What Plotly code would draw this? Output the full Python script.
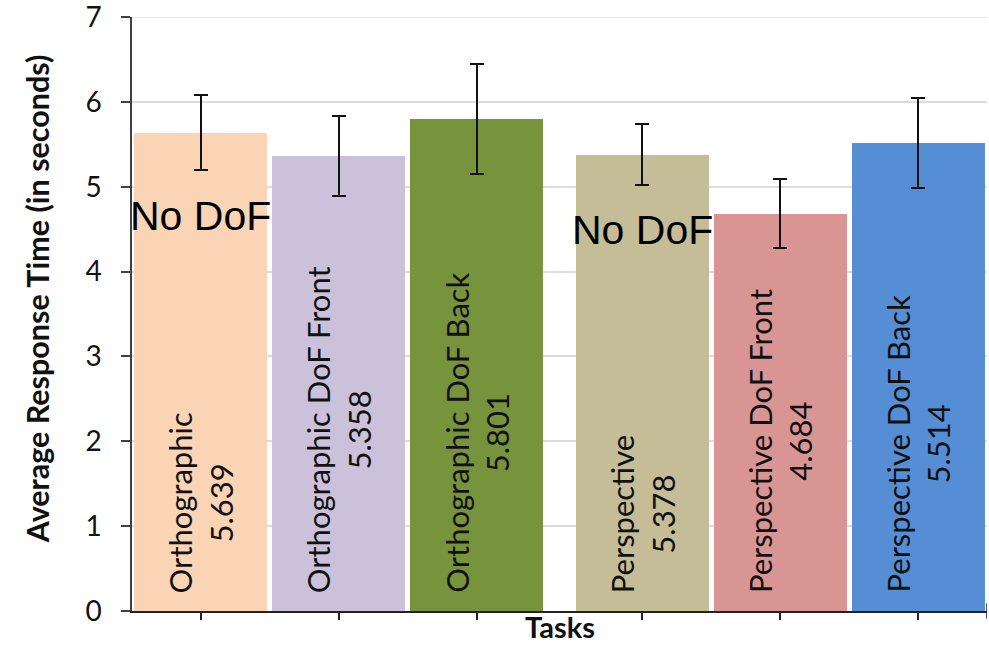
import plotly.graph_objects as go

categories = ["Orthographic", "Orthographic DoF Front", "Orthographic DoF Back",
              "Perspective", "Perspective DoF Front", "Perspective DoF Back"]
values = [5.639, 5.358, 5.801, 5.378, 4.684, 5.514]
errors = [0.44, 0.47, 0.65, 0.36, 0.41, 0.53]
colors = ["#FAD4B5", "#CCC1DA", "#77933C", "#C4BD97", "#D99594", "#558ED5"]
group_labels = ["No DoF", "No DoF"]
group_label_values = [4.65, 4.49]
group_label_idx = [0, 3]
y_ticks = [0, 1, 2, 3, 4, 5, 6, 7]

# layout: second group shifted right by a small gap
x_pos = [i + (0.2 if i >= 3 else 0.0) for i in range(len(categories))]
x_range = [-0.5, 5.7]
y_range = [-0.0005, 7.0005]

fig = go.Figure()
fig.add_trace(go.Bar(
    x=x_pos, y=values, width=0.965,
    marker=dict(color=colors, line=dict(width=0)),
    error_y=dict(type="data", array=errors, visible=True,
                 color="#111111", thickness=2, width=7),
    showlegend=False, hoverinfo="skip",
))

annotations = []
for xp, cat, v in zip(x_pos, categories, values):
    annotations.append(dict(
        x=xp, y=0, xref="x", yref="y", text=f"{cat}<br>{v:.3f}",
        textangle=-90, showarrow=False, xanchor="center", yanchor="bottom",
        yshift=16, align="center",
        font=dict(family="Lato", size=31, color="#111111"),
    ))
for lbl, v, idx in zip(group_labels, group_label_values, group_label_idx):
    annotations.append(dict(
        x=x_pos[idx], y=v, xref="x", yref="y", text=lbl, showarrow=False,
        xanchor="center", yanchor="middle",
        font=dict(family="Liberation Sans", size=41, color="#000000"),
    ))
# axis titles
annotations.append(dict(
    x=0.5, y=-0.0575, xref="paper", yref="paper", text="<b>Tasks</b>",
    showarrow=False, xanchor="center", yanchor="bottom", borderpad=0,
    font=dict(family="Lato", size=29, color="#111111"),
))
annotations.append(dict(
    x=-0.111, y=0.525, xref="paper", yref="paper",
    text="<b>Average Response Time (in seconds)</b>", textangle=-90,
    showarrow=False, xanchor="center", yanchor="middle",
    font=dict(family="Lato", size=30.5, color="#111111"),
))

fig.update_layout(
    width=989, height=646,
    margin=dict(l=132, r=2, t=17, b=35),
    paper_bgcolor="white", plot_bgcolor="white",
    bargap=0,
    annotations=annotations,
    shapes=[
        dict(type="line", xref="x", yref="paper", x0=x_range[1], x1=x_range[1],
             y0=-0.013, y1=0.013, line=dict(color="#222222", width=1.5)),
        dict(type="line", xref="paper", yref="y", x0=0, x1=1, y0=y_ticks[-1],
             y1=y_ticks[-1], line=dict(color="#DCDCDC", width=1.5), layer="below"),
    ],
    xaxis=dict(
        range=x_range, tickvals=x_pos, ticktext=[""] * len(x_pos),
        ticks="outside", ticklen=7, tickwidth=1.5, tickcolor="#222222",
        showline=True, linecolor="#222222", linewidth=1.5,
        showgrid=False, zeroline=False, automargin=False,
    ),
    yaxis=dict(
        range=y_range, tickvals=y_ticks, ticks="outside", ticklen=9,
        tickwidth=1.5, tickcolor="#404040", showline=True, linecolor="#404040",
        linewidth=1.5, ticklabelstandoff=14, ticklabeloverflow="allow",
        automargin=False,
        showgrid=True, gridcolor="#DCDCDC", gridwidth=1.5, zeroline=False,
        tickfont=dict(family="Lato", size=28, color="#111111"),
    ),
)

fig.write_html("out.html")
